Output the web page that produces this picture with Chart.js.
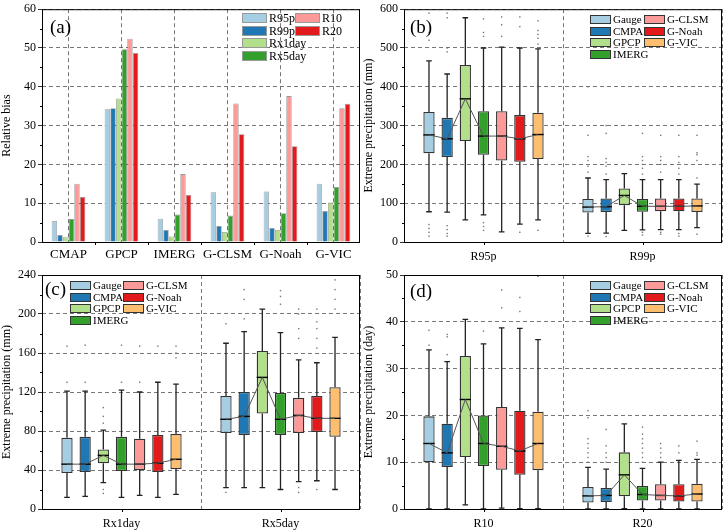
<!DOCTYPE html>
<html>
<head>
<meta charset="utf-8">
<script src="https://cdn.jsdelivr.net/npm/chart.js@4.4.1/dist/chart.umd.min.js"></script>
<style>
  body { margin: 0; background: #fff; font-family: "Liberation Serif", serif; }
  #wrap { position: relative; width: 724px; height: 532px; }
  canvas { position: absolute; }
  .tag { position: absolute; font-size: 19px; line-height: 1; color: #000; }
  .sw { position: absolute; box-sizing: border-box; }
  .lt { position: absolute; color: #000; white-space: nowrap; }
</style>
</head>
<body>
<div id="wrap">
  <canvas id="ca" width="362" height="262" style="left:0;top:0"></canvas>
  <canvas id="cb" width="362" height="262" style="left:362px;top:0"></canvas>
  <canvas id="cc" width="362" height="270" style="left:0;top:262px"></canvas>
  <canvas id="cd" width="362" height="270" style="left:362px;top:262px"></canvas>
  <div class="tag" style="left:50px;top:17px">(a)</div>
  <div class="tag" style="left:410px;top:17px">(b)</div>
  <div class="tag" style="left:45px;top:279px">(c)</div>
  <div class="tag" style="left:410px;top:281px">(d)</div>
</div>
<script>
// panel (a): relative bias per product
const barCats = ['CMAP', 'GPCP', 'IMERG', 'G-CLSM', 'G-Noah', 'G-VIC'];
const indices = ['R95p', 'R99p', 'Rx1day', 'Rx5day', 'R10', 'R20'];
const indexColors = ['#a6cee3', '#1f78b4', '#b2df8a', '#33a02c', '#fb9a99', '#e31a1c'];
const biasR95p   = [5.4, 34.2, 6.0, 12.8, 13.0, 15.0];
const biasR99p   = [1.8, 34.5, 3.1, 4.1, 3.6, 8.0];
const biasRx1day = [1.2, 37.0, 1.4, 2.6, 3.1, 10.2];
const biasRx5day = [5.9, 49.7, 7.1, 6.8, 7.4, 14.2];
const biasR10    = [15.0, 52.4, 17.5, 35.7, 37.6, 34.5];
const biasR20    = [11.6, 48.7, 12.1, 27.8, 24.7, 35.6];

// panels (b)-(d): box stats per product [low whisker, q1, median, q3, high whisker]
const products = ['Gauge', 'CMPA', 'GPCP', 'IMERG', 'G-CLSM', 'G-Noah', 'G-VIC'];
const productColors = ['#a6cee3', '#1f78b4', '#b2df8a', '#33a02c', '#fb9a99', '#e31a1c', '#fdbf6f'];

const statR95p = [[78,229,276,335,467],[77,219,266,320,433],[57,260,369,456,578],[70,225,273,337,500],[26,210,273,337,502],[46,207,266,327,500],[57,214,277,333,498]];
const outR95p = [[15,25,35,45,520,540,590],[15,22,32,42,490,500,578,590],[],[30,40,50,530,540,575],[530,560,580],[25,555,580],[30,510,525,535,545,570]];
const statR99p = [[22,76,90,111,165],[23,77,91,112,161],[30,95,120,138,176],[31,78,92,111,161],[32,79,92,112,161],[32,79,92,112,161],[37,77,93,112,149]];
const outR99p = [[15,180,195,210,220,275,400],[14,175,195,205,215,280,300],[],[18,25,175,190,200,210,220,280],[20,25,180,200,210,220,275],[15,22,175,190,205,220,275],[20,165,210,225,230,275]];

const statRx1day = [[12,37,46,73,121],[13,38,46,74,121],[27,47,55,61,81],[12,39,46,74,122],[14,40,46,72,120],[12,38,47,76,130],[15,41,51,77,128]];
const outRx1day = [[130,167],[130,168],[16,20,88,95,104],[130,168],[130,167],[167],[155,160,167]];
const statRx5day = [[22,78,92,116,170],[22,76,95,120,182],[22,98,135,162,205],[20,76,92,119,181],[28,78,96,114,153],[29,79,93,116,150],[20,74,93,125,176]];
const outRx5day = [[17,190],[195,215,225],[],[210,218,224],[17,22,175,185,200,205],[20,165,175,185,192,205],[205,215,225,235]];

const statR10 = [[0,10,14,19.8,34],[0,9,12,18.2,31.5],[0.9,11.1,23.4,32.7,40.5],[0,9.2,14,20,35.3],[0.2,8.4,13.4,21.8,38.7],[0.1,7.3,12.4,21,38.6],[0.1,8.3,14,20.8,36.2]];
const outR10 = [[35,38.2],[33,36.8,37.3],[],[38],[43,46.8],[42.2,45.2],[49.7]];
const statR20 = [[0,1.4,2.8,4.7,8.9],[0,1.5,2.9,4.5,8.5],[0.1,2.7,7.3,12.1,18.2],[0,1.8,3.1,4.9,8.7],[0,1.8,2.9,5.3,10],[0,1.6,2.8,5.3,10.4],[0,1.6,3.2,5.4,10.6]];
const outR20 = [[10,11,12,13,14,15,19.5,21],[10,11,12,13.5,17],[],[10,11,12,13,14,15,16,17.5],[11,12,13,14],[12,13.5],[11.5,12,14.5]];

const FONT = 'Liberation Serif';
const GRID = '#555';

// solid box round the plot area, plus x ticks and minor y ticks
function framePlugin(xTicksBetween) {
    return {
        id: 'frame',
        afterDraw(chart) {
            const { ctx, chartArea: a, scales } = chart;
            ctx.save();
            ctx.strokeStyle = '#000';
            ctx.lineWidth = 1;
            ctx.strokeRect(a.left + 0.5, a.top + 0.5, a.right - a.left - 1, a.bottom - a.top);
            ctx.beginPath();
            const n = scales.x.ticks.length;
            for (let i = 0; i < n; i++) {
                let px = scales.x.getPixelForValue(i);
                if (xTicksBetween) {
                    if (i === n - 1) break;
                    px = (px + scales.x.getPixelForValue(i + 1)) / 2;
                }
                ctx.moveTo(Math.round(px) + 0.5, a.bottom);
                ctx.lineTo(Math.round(px) + 0.5, a.bottom + 3);
            }
            const yt = scales.y.ticks;
            for (let i = 0; i < yt.length - 1; i++) {
                const py = scales.y.getPixelForValue((yt[i].value + yt[i + 1].value) / 2);
                ctx.moveTo(a.left, Math.round(py) + 0.5);
                ctx.lineTo(a.left - 2, Math.round(py) + 0.5);
            }
            ctx.stroke();
            ctx.restore();
        }
    };
}

function yAxis(max, step, title) {
    return {
        min: 0, max: max,
        ticks: { stepSize: step, color: '#000', font: { family: FONT, size: 12 }, padding: 2 },
        grid: { color: GRID, lineWidth: 0.8, tickColor: '#000', tickLength: 4 },
        border: { display: false, dash: [4, 3] },
        title: { display: true, text: title, color: '#000', font: { family: FONT, size: 12 }, padding: { top: 0, bottom: 1 } },
        afterFit: s => { s.width = 42; }
    };
}

function xAxis(offsetGrid, height, size, pad) {
    return {
        grid: { offset: offsetGrid, color: GRID, lineWidth: 0.8, drawTicks: false },
        border: { display: false, dash: [4, 3] },
        ticks: { color: '#000', font: { family: FONT, size: size }, padding: pad, maxRotation: 0 },
        afterFit: s => { s.height = height; }
    };
}

// Bar Chart (a)
const biasSeries = [biasR95p, biasR99p, biasRx1day, biasRx5day, biasR10, biasR20];
new Chart(document.getElementById('ca').getContext('2d'), {
    type: 'bar',
    data: {
        labels: barCats,
        datasets: indices.map((name, i) => ({
            label: name,
            data: biasSeries[i],
            backgroundColor: indexColors[i],
            borderColor: 'rgba(70,70,70,0.55)',
            borderWidth: 0.8,
            barPercentage: 0.96,
            categoryPercentage: 0.64
        }))
    },
    options: {
        responsive: false,
        animation: false,
        layout: { padding: { top: 8, right: 2 } },
        plugins: { legend: { display: false }, tooltip: { enabled: false } },
        scales: {
            x: xAxis(false, 20, 13, 5),
            y: yAxis(60, 10, 'Relative bias')
        }
    },
    plugins: [framePlugin(true)]
});

// whiskers, medians, outliers and median line drawn on top of the floating bars
function boxPlugin(stats, outs) {
    return {
        id: 'boxExtras',
        afterDatasetsDraw(chart) {
            const ctx = chart.ctx;
            const y = chart.scales.y;
            ctx.save();
            stats.forEach((group, gi) => {
                const mids = [];
                group.forEach((s, p) => {
                    const el = chart.getDatasetMeta(p).data[gi];
                    const x = el.x, w = el.width;
                    ctx.strokeStyle = '#222';
                    ctx.lineWidth = 1.3;
                    ctx.beginPath();
                    ctx.moveTo(x, y.getPixelForValue(s[3])); ctx.lineTo(x, y.getPixelForValue(s[4]));
                    ctx.moveTo(x - w / 4, y.getPixelForValue(s[4])); ctx.lineTo(x + w / 4, y.getPixelForValue(s[4]));
                    ctx.moveTo(x, y.getPixelForValue(s[1])); ctx.lineTo(x, y.getPixelForValue(s[0]));
                    ctx.moveTo(x - w / 4, y.getPixelForValue(s[0])); ctx.lineTo(x + w / 4, y.getPixelForValue(s[0]));
                    ctx.stroke();
                    ctx.strokeStyle = '#000';
                    ctx.lineWidth = 1.4;
                    ctx.beginPath();
                    ctx.moveTo(x - w / 2, y.getPixelForValue(s[2])); ctx.lineTo(x + w / 2, y.getPixelForValue(s[2]));
                    ctx.stroke();
                    mids.push([x, y.getPixelForValue(s[2])]);
                    ctx.fillStyle = '#777';
                    outs[gi][p].forEach(v => {
                        ctx.fillRect(x - 0.7, y.getPixelForValue(v) - 0.7, 1.4, 1.4);
                    });
                });
                ctx.strokeStyle = '#555';
                ctx.lineWidth = 1;
                ctx.beginPath();
                mids.forEach((m, i) => i ? ctx.lineTo(m[0], m[1]) : ctx.moveTo(m[0], m[1]));
                ctx.stroke();
            });
            ctx.restore();
        }
    };
}

function boxChart(id, groups, stats, outs, max, step, title, padTop, xHeight, xPad) {
    new Chart(document.getElementById(id).getContext('2d'), {
        type: 'bar',
        data: {
            labels: groups,
            datasets: products.map((name, p) => ({
                label: name,
                data: stats.map(g => [g[p][1], g[p][3]]),
                backgroundColor: productColors[p],
                borderColor: '#333',
                borderWidth: 1.3,
                borderSkipped: false,
                barPercentage: 0.62,
                categoryPercentage: 0.8
            }))
        },
        options: {
            responsive: false,
            animation: false,
            layout: { padding: { top: padTop, right: 2 } },
            plugins: { legend: { display: false }, tooltip: { enabled: false } },
            scales: {
                x: xAxis(true, xHeight, 12, xPad),
                y: yAxis(max, step, title)
            }
        },
        plugins: [boxPlugin(stats, outs), framePlugin(false)]
    });
}

boxChart('cb', ['R95p', 'R99p'], [statR95p, statR99p], [outR95p, outR99p], 600, 100, 'Extreme precipitation (mm)', 8, 20, 8);
boxChart('cc', ['Rx1day', 'Rx5day'], [statRx1day, statRx5day], [outRx1day, outRx5day], 240, 40, 'Extreme precipitation (mm)', 13, 23, 8);
boxChart('cd', ['R10', 'R20'], [statR10, statR20], [outR10, outR20], 50, 10, 'Extreme precipitation (day)', 13, 23, 8);

// two-column legends as html
function legend(names, colors, opt) {
    const wrap = document.getElementById('wrap');
    names.forEach((n, i) => {
        const col = i < 4 ? 0 : 1;
        const row = i < 4 ? i : i - 4;
        const sx = col ? opt.x2 : opt.x1;
        const sy = opt.y + row * opt.rowH;
        const sw = document.createElement('div');
        sw.className = 'sw';
        sw.style.cssText = `left:${sx}px;top:${sy}px;width:${opt.w}px;height:${opt.h}px;background:${colors[i]};border:${opt.border}`;
        wrap.appendChild(sw);
        const t = document.createElement('div');
        t.className = 'lt';
        t.textContent = n;
        t.style.cssText = `left:${sx + opt.w + 2}px;top:${sy - 2}px;font-size:${opt.size}px;line-height:${opt.h + 4}px`;
        wrap.appendChild(t);
    });
}

legend(indices, indexColors, { x1: 242, x2: 295, y: 13, rowH: 12.7, w: 25, h: 10, size: 12, border: '1px solid #999' });
legend(products, productColors, { x1: 590, x2: 644, y: 15, rowH: 11.7, w: 21, h: 9, size: 11, border: '1.5px solid #333' });
legend(products, productColors, { x1: 70, x2: 123, y: 281, rowH: 11.7, w: 21, h: 9, size: 11, border: '1.5px solid #333' });
legend(products, productColors, { x1: 590, x2: 644, y: 281, rowH: 11.7, w: 21, h: 9, size: 11, border: '1.5px solid #333' });
</script>
</body>
</html>
